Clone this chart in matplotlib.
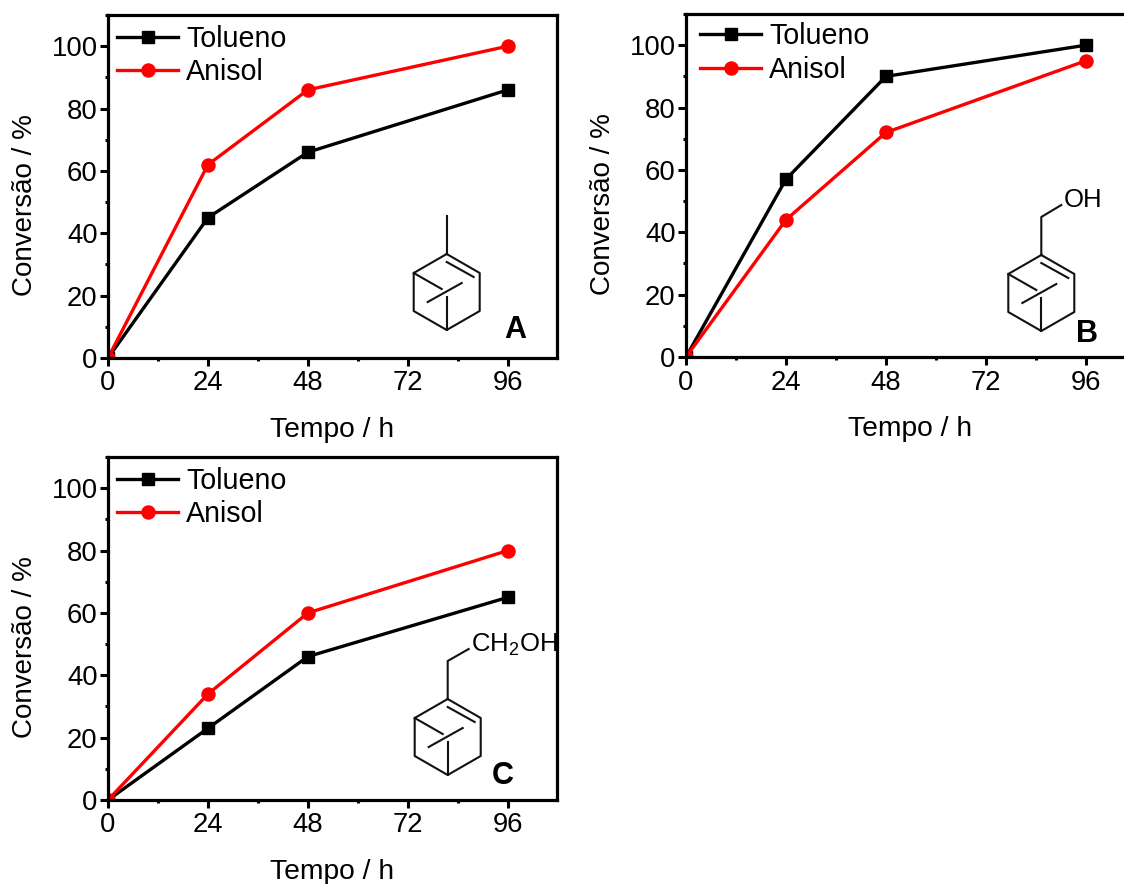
import matplotlib
matplotlib.use("Agg")
import matplotlib.pyplot as plt
from matplotlib.lines import Line2D
from matplotlib.transforms import Affine2D
from matplotlib.ticker import MultipleLocator

plt.rcParams['font.family'] = ['Liberation Sans', 'DejaVu Sans']
plt.rcParams['mathtext.default'] = 'regular'

W, H = 1124, 884

tempo = [0, 24, 48, 96]
tolueno_a = [0, 45, 66, 86]
anisol_a = [0, 62, 86, 100]
tolueno_b = [0, 57, 90, 100]
anisol_b = [0, 44, 72, 95]
tolueno_c = [0, 23, 46, 65]
anisol_c = [0, 34, 60, 80]

fig = plt.figure(figsize=(W / 100, H / 100), dpi=100)
# pixel coordinates, y going down, same as the reference image
px = Affine2D().scale(1 / W, -1 / H).translate(0, 1) + fig.transFigure


def panel(left, top, tol, ani, spacing, leg_dx, leg_dy):
    ax = fig.add_axes([left / W, 1 - (top + 343) / H, 449 / W, 343 / H])
    ax.plot(tempo, tol, color="black", lw=2.4, marker="s", ms=8.6, label="Tolueno")
    ax.plot(tempo, ani, color="red", lw=2.4, marker="o", ms=9.4, label="Anisol")
    ax.set_xlim(0, 107.8)
    ax.set_ylim(0, 110)
    ax.xaxis.set_major_locator(MultipleLocator(24))
    ax.xaxis.set_minor_locator(MultipleLocator(12))
    ax.yaxis.set_major_locator(MultipleLocator(20))
    ax.yaxis.set_minor_locator(MultipleLocator(10))
    ax.tick_params(which="major", length=5.5, width=2.2, labelsize=19.8)
    ax.tick_params(axis="x", which="major", pad=3.5)
    ax.tick_params(axis="y", which="major", pad=2)
    ax.tick_params(which="minor", length=2.5, width=2.2)
    for s in ax.spines.values():
        s.set_linewidth(2.3)
    ax.set_xlabel("Tempo / h", fontsize=20.3)
    ax.set_ylabel("Conversão / %", fontsize=20)
    ax.xaxis.set_label_coords(0.5, -0.172)
    ax.yaxis.set_label_coords(-0.155, 0.446)
    ax.legend(loc="upper left", bbox_to_anchor=(leg_dx / 449, 1 - leg_dy / 343),
              frameon=False, fontsize=20.6,
              handlelength=2.13, handletextpad=0.29, labelspacing=spacing,
              borderaxespad=0.1, borderpad=0.15)
    return ax


def molecule(x, y, stem):
    # pinene-like ring, x,y is the top corner of the hexagon
    segs = [[(0, 0), (33, 19), (33, 57), (0, 76), (-33, 57), (-33, 19), (0, 0)],
            [(0, 8), (27, 23)],
            [(-33, 19), (-5, 35)],
            [(-19, 48), (15, 29)],
            [(0, 43), (0, 76)],
            stem]
    for seg in segs:
        xs = [x + p[0] for p in seg]
        ys = [y + p[1] for p in seg]
        fig.add_artist(Line2D(xs, ys, transform=px, color="#111111", lw=1.5))


def label(x, y, s, **kw):
    fig.text(x, y, s, transform=px, ha="center", va="center", **kw)


panel(108, 15, tolueno_a, anisol_a, 0.16, 2, 3)
panel(686, 14, tolueno_b, anisol_b, 0.22, 7, 1)
panel(108, 457, tolueno_c, anisol_c, 0.16, 2, 3)

molecule(446.7, 254, [(0, 0), (0, -38)])
molecule(1041.3, 255, [(0, 0), (0, -38), (20, -50)])
molecule(447.7, 699, [(0, 0), (0, -38), (21, -50)])

label(515, 330, "A", fontsize=22, fontweight="bold")
label(1087, 334, "B", fontsize=22, fontweight="bold")
label(503, 776, "C", fontsize=22, fontweight="bold")
label(1083, 200, "OH", fontsize=18.5)
label(514, 645, "CH$_2$OH", fontsize=18.5)

fig.savefig("out.png", dpi=100)
